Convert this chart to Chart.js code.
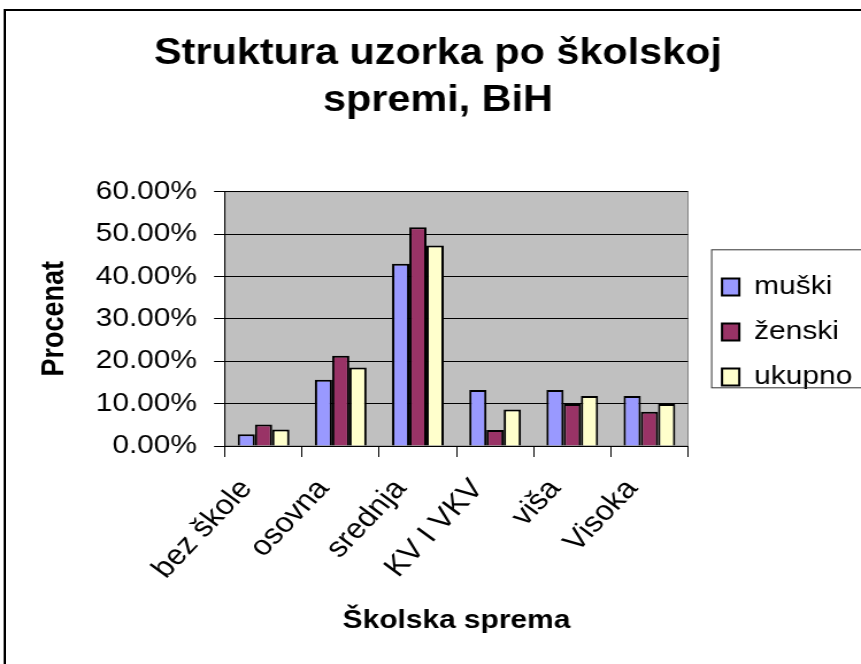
<!DOCTYPE html>
<html>
<head>
<meta charset="utf-8">
<script src="https://cdn.jsdelivr.net/npm/chart.js@4.4.1/dist/chart.umd.min.js"></script>
<style>
  html, body { margin: 0; padding: 0; background: #fff; }
  #wrap { position: relative; width: 861px; height: 664px; overflow: hidden; }
  #c { position: absolute; left: 0; top: 0; }
  /* okvir grafikona (samo gornja i lijeva ivica su vidljive) */
  #okvir { position: absolute; left: 4px; top: 9px; right: -10px; bottom: -10px;
           border-left: 2px solid #000; border-top: 2px solid #000;
           box-shadow: -1px 0 0 #9a9a9a; pointer-events: none; }
</style>
</head>
<body>
<div id="wrap">
  <!-- platno je uže pa se razvuče na 861px, kao u originalu -->
  <canvas id="c" width="749" height="664" style="width:861px;height:664px"></canvas>
  <div id="okvir"></div>
</div>
<script>
// podaci
const kategorije = ['bez škole', 'osovna', 'srednja', 'KV I VKV', 'viša', 'Visoka'];
const muski  = [2.8, 15.6, 43.0, 13.2, 13.2, 11.8];
const zenski = [5.1, 21.3, 51.6, 3.8, 9.9, 8.1];
const ukupno = [3.9, 18.5, 47.3, 8.6, 11.8, 9.9];
const yOznake = [0, 10, 20, 30, 40, 50, 60];

const naslov = ['Struktura uzorka po školskoj', 'spremi, BiH'];
const naslovY = 'Procenat';
const naslovX = 'Školska sprema';

Chart.defaults.font.family = '"Liberation Sans", Arial, sans-serif';
Chart.defaults.color = '#000';

const SIRINA_LEGENDE = 150.5;

// siva pozadina, sirina i pomak legende, okvir legende
const pozadina = {
    id: 'pozadina',
    beforeInit(chart) {
        const fit = chart.legend.fit;
        chart.legend.fit = function () {
            fit.call(this);
            this.width = SIRINA_LEGENDE;
        };
    },
    beforeDraw(chart) {
        const { ctx, chartArea: a } = chart;
        ctx.save();
        ctx.fillStyle = '#c0c0c0';
        ctx.fillRect(a.left, a.top, a.right - a.left, a.bottom - a.top);
        ctx.strokeStyle = '#808080';
        ctx.lineWidth = 1;
        ctx.strokeRect(a.left, a.top, a.right - a.left, a.bottom - a.top);
        ctx.restore();
    },
    afterLayout(chart) {
        chart.legend.left += 10.6;
        chart.legend.right += 10.6;
    },
    afterDraw(chart) {
        const { ctx, chartArea: a } = chart;
        const lg = chart.legend;
        const sred = (a.top + a.bottom) / 2;
        ctx.save();
        ctx.strokeStyle = '#333';
        ctx.lineWidth = 1;
        ctx.strokeRect(lg.left + lg.options.labels.padding - 9, sred - 69, 300, 138);
        ctx.restore();
    }
};

const ctx = document.getElementById('c').getContext('2d');
new Chart(ctx, {
    type: 'bar',
    data: {
        labels: kategorije,
        datasets: [
            { label: 'muški',  data: muski,  backgroundColor: '#9999ff', borderColor: '#000', borderWidth: 2 },
            { label: 'ženski', data: zenski, backgroundColor: '#993366', borderColor: '#000', borderWidth: 2 },
            { label: 'ukupno', data: ukupno, backgroundColor: '#ffffcc', borderColor: '#000', borderWidth: 2 }
        ]
    },
    options: {
        responsive: false,
        devicePixelRatio: 1,
        animation: false,
        layout: { padding: { left: 13, right: 0, top: 0, bottom: 0 } },
        datasets: { bar: { barPercentage: 1, categoryPercentage: 0.67 } },
        plugins: {
            title: {
                display: true,
                text: naslov,
                color: '#000',
                font: { size: 36, weight: 'bold', lineHeight: 1.3 },
                padding: { top: 31, bottom: 67 }
            },
            legend: {
                position: 'right',
                labels: {
                    boxWidth: 15,
                    boxHeight: 17,
                    padding: 19,
                    color: '#000',
                    font: { size: 26 }
                }
            },
            tooltip: { enabled: false }
        },
        scales: {
            x: {
                grid: { display: true, drawOnChartArea: false, drawTicks: true, tickLength: 11, color: '#000', offset: true },
                border: { color: '#000', width: 1 },
                ticks: { autoSkip: false, minRotation: 50, maxRotation: 50, padding: 16, labelOffset: -15, font: { size: 28 }, color: '#000' },
                title: { display: true, text: naslovX, font: { size: 26, weight: 'bold' }, padding: { top: 0, bottom: 28 } },
                afterFit(s) { s.height = 218; }
            },
            y: {
                min: yOznake[0],
                max: yOznake[yOznake.length - 1],
                grid: { color: '#000', lineWidth: 1, drawTicks: true, tickLength: 9.5 },
                border: { color: '#000', width: 1 },
                ticks: {
                    stepSize: yOznake[1] - yOznake[0],
                    padding: 14.8,
                    font: { size: 26 },
                    color: '#000',
                    callback: v => v.toFixed(2) + '%'
                },
                title: { display: true, text: naslovY, font: { size: 27, weight: 'bold' }, padding: { top: 18.6, bottom: 0 } },
                afterFit(s) { s.width = 182.7; }
            }
        }
    },
    plugins: [pozadina]
});
</script>
</body>
</html>
